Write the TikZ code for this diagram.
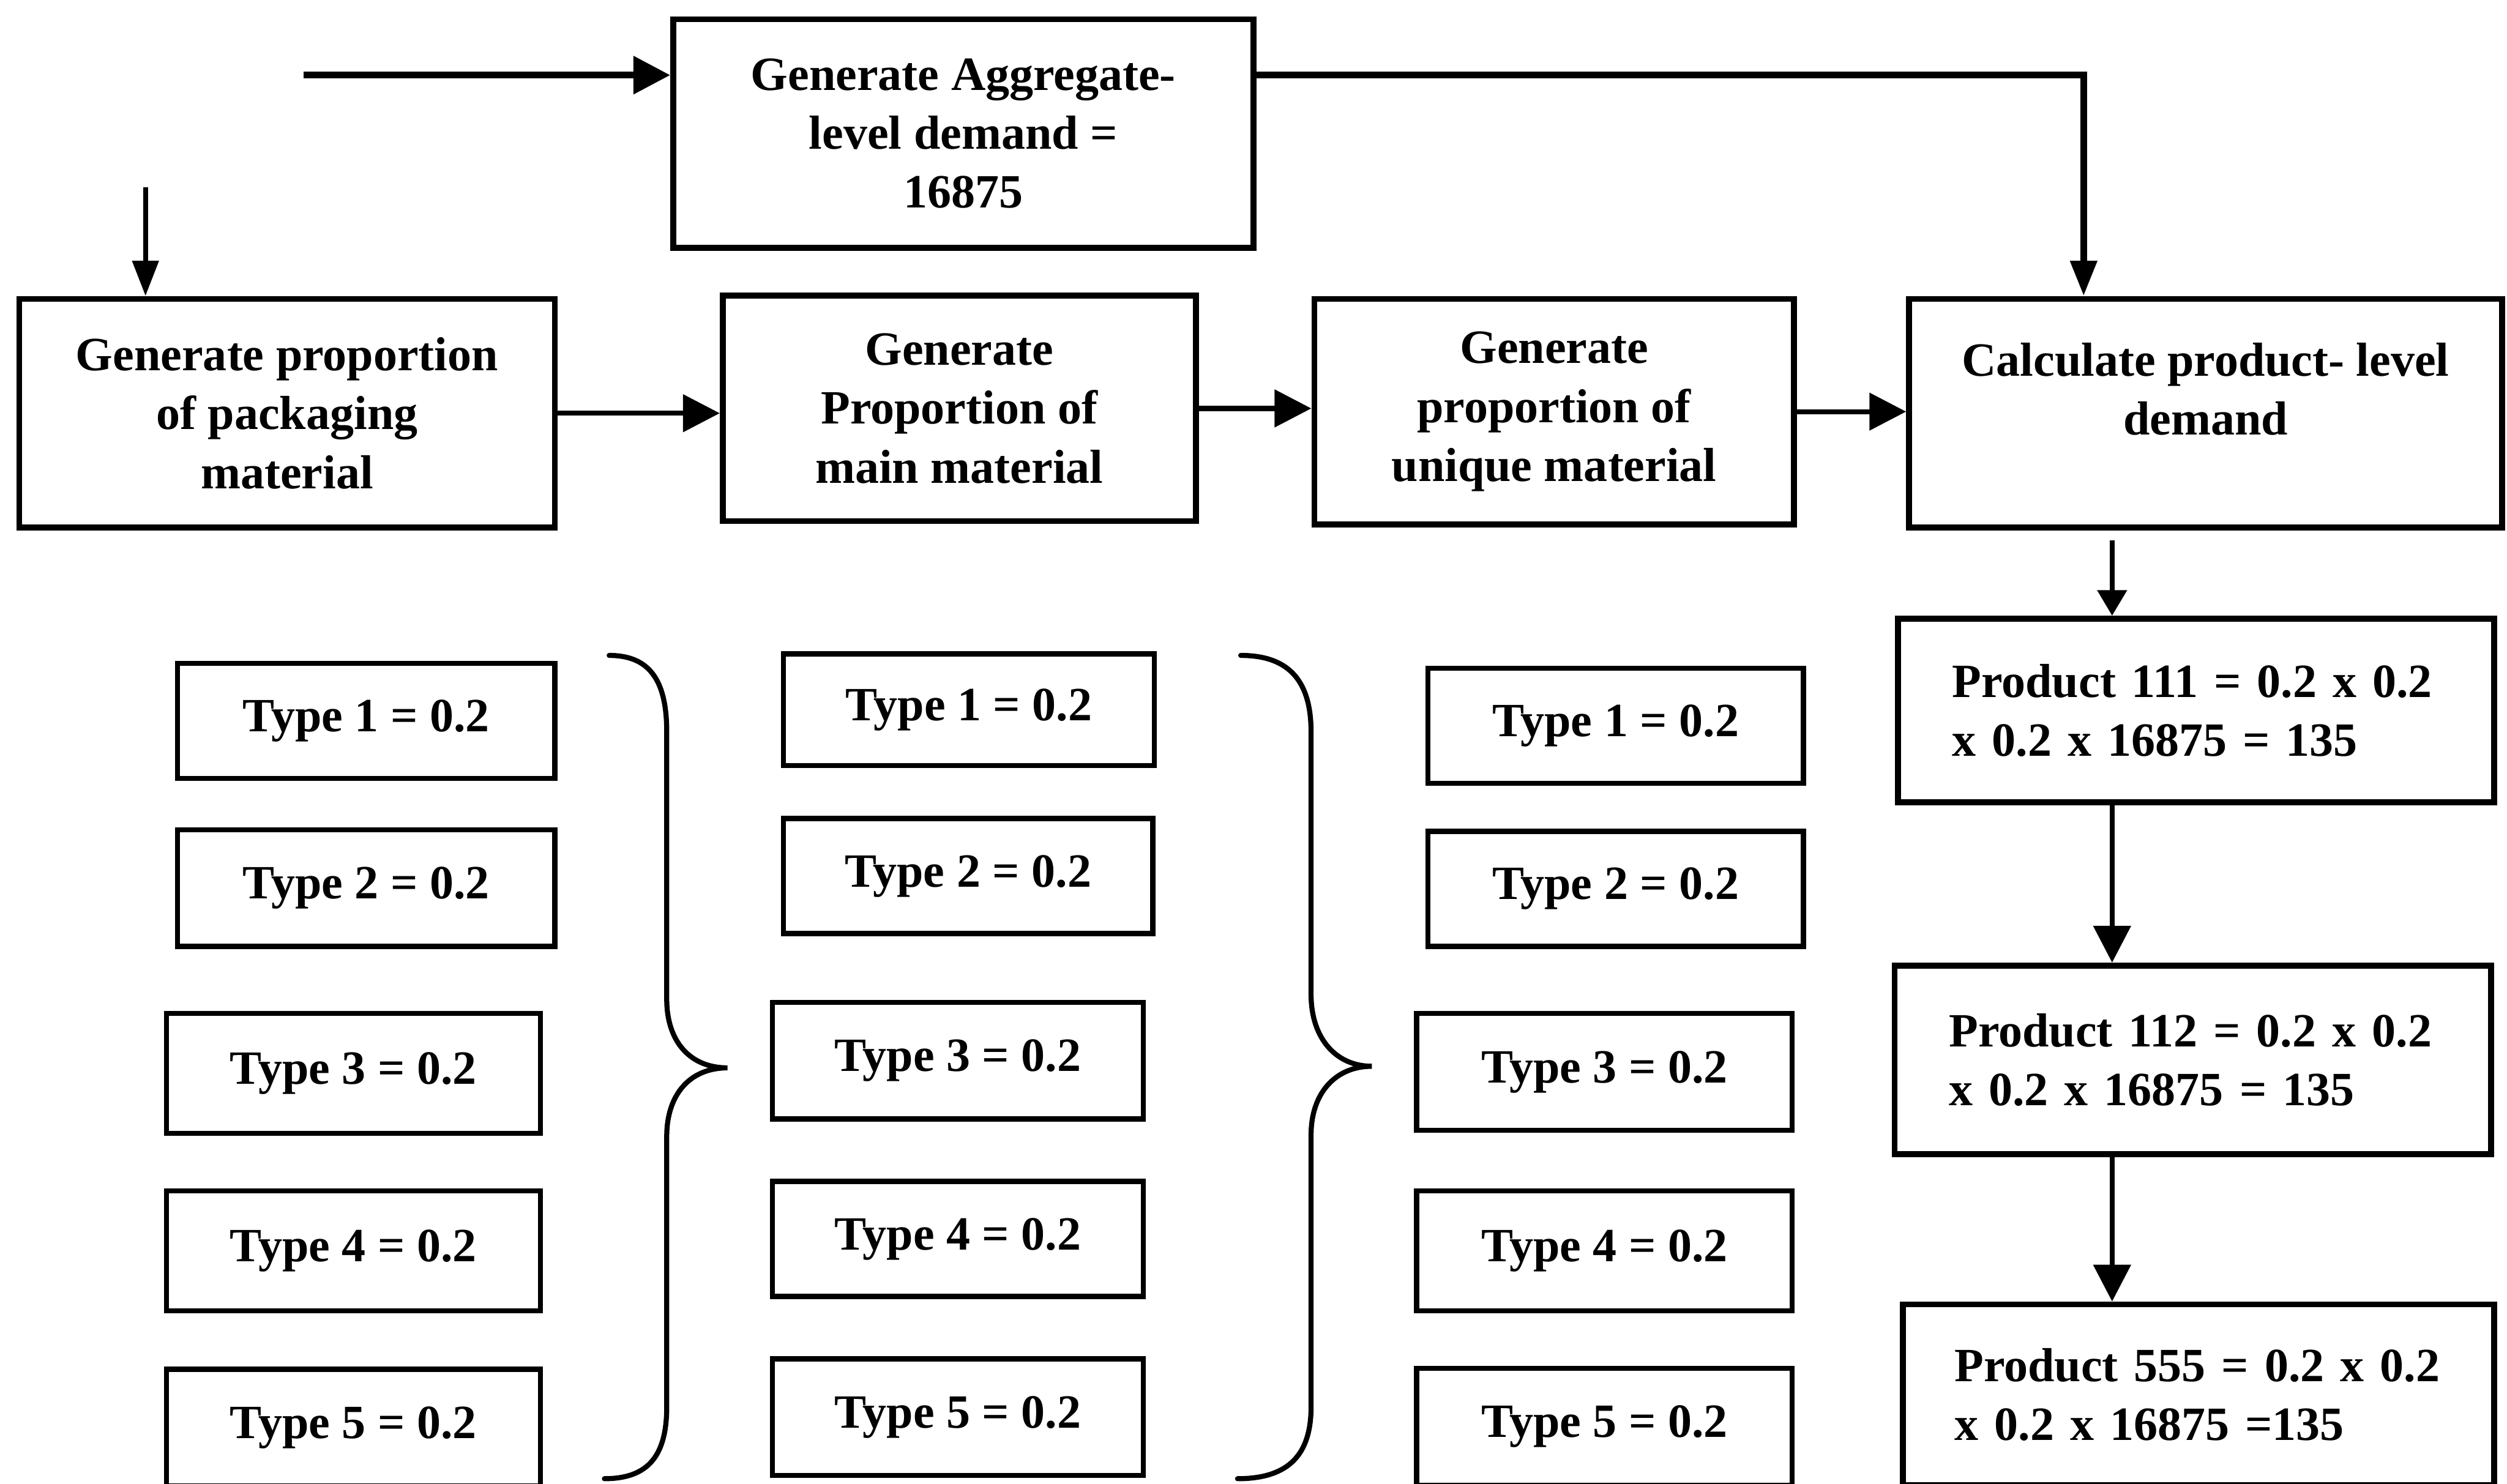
\documentclass[tikz,border=0pt]{standalone}
\usepackage{fontspec}
\setmainfont{Liberation Serif}
\usetikzlibrary{arrows.meta,calc}

\begin{document}
\begin{tikzpicture}[x=0.02cm,y=-0.02cm,
  font=\fontsize{17}{21}\selectfont\bfseries,
  bigbox/.style={draw,line width=2.1pt,align=center,inner sep=0pt},
  typebox/.style={draw,line width=1.8pt,inner sep=0pt},
  prodbox/.style={draw,line width=2.1pt,align=left,inner xsep=0.62cm,inner ysep=0pt,
    text width=6.1cm,minimum width=7.46cm},
  arr/.style={line width=1.8pt,-{Triangle[length=0.46cm,width=0.46cm]}},
  narr/.style={line width=1.8pt,-{Triangle[length=0.44cm,width=0.32cm]}},
  brace/.style={line width=1.8pt,line cap=round}]

\useasboundingbox (0,0) rectangle (1568,928);

% main flow boxes
\node[bigbox,minimum width=7.26cm,minimum height=2.86cm] (agg) at (602.5,83.5)
  {Generate Aggregate-\\level demand =\\16875};
\node[bigbox,minimum width=6.70cm,minimum height=2.86cm] (pack) at (179.5,258.5)
  {Generate proportion\\of packaging\\material};
\node[bigbox,minimum width=5.92cm,minimum height=2.82cm] (main) at (600,255.5)
  {Generate\\Proportion of\\main material};
\node[bigbox,minimum width=6.00cm,minimum height=2.82cm] (uniq) at (972,257.5)
  {Generate\\proportion of\\unique material};
\node[bigbox,minimum width=7.42cm,minimum height=2.86cm] (calc) at (1379.5,258.5) {};
\node[align=center] (calctext) at ($(calc.center)+(0,-15)$)
  {Calculate product- level\\demand};

% product-level results
\node[prodbox,minimum height=2.30cm] (p111) at (1373.5,444.5)
  {Product 111 = 0.2 x 0.2\\x 0.2 x 16875 = 135};
\node[prodbox,minimum height=2.36cm] (p112) at (1371.5,663)
  {Product 112 = 0.2 x 0.2\\x 0.2 x 16875 = 135};
\node[prodbox,minimum height=2.26cm,minimum width=7.40cm] (p555) at (1375,872.5)
  {Product 555 = 0.2 x 0.2\\x 0.2 x 16875 =135};

% material types, packaging
\node[typebox,minimum width=4.72cm,minimum height=1.44cm] (a1) at (229,451) {Type 1 = 0.2};
\node[typebox,minimum width=4.72cm,minimum height=1.46cm] (a2) at (229,555.5) {Type 2 = 0.2};
\node[typebox,minimum width=4.68cm,minimum height=1.50cm] (a3) at (221,671.5) {Type 3 = 0.2};
\node[typebox,minimum width=4.68cm,minimum height=1.50cm] (a4) at (221,782.5) {Type 4 = 0.2};
\node[typebox,minimum width=4.68cm,minimum height=1.46cm] (a5) at (221,893) {Type 5 = 0.2};

% material types, main
\node[typebox,minimum width=4.64cm,minimum height=1.40cm] (b1) at (606,444) {Type 1 = 0.2};
\node[typebox,minimum width=4.62cm,minimum height=1.44cm] (b2) at (605.5,548) {Type 2 = 0.2};
\node[typebox,minimum width=4.64cm,minimum height=1.46cm] (b3) at (599,663.5) {Type 3 = 0.2};
\node[typebox,minimum width=4.64cm,minimum height=1.44cm] (b4) at (599,775) {Type 4 = 0.2};
\node[typebox,minimum width=4.64cm,minimum height=1.46cm] (b5) at (599,886.5) {Type 5 = 0.2};

% material types, unique
\node[typebox,minimum width=4.70cm,minimum height=1.44cm] (c1) at (1010.5,454) {Type 1 = 0.2};
\node[typebox,minimum width=4.70cm,minimum height=1.44cm] (c2) at (1010.5,556) {Type 2 = 0.2};
\node[typebox,minimum width=4.70cm,minimum height=1.46cm] (c3) at (1003.5,670.5) {Type 3 = 0.2};
\node[typebox,minimum width=4.70cm,minimum height=1.50cm] (c4) at (1003.5,782.5) {Type 4 = 0.2};
\node[typebox,minimum width=4.70cm,minimum height=1.46cm] (c5) at (1003.5,892.5) {Type 5 = 0.2};

% curly braces between the type columns
\draw[brace] (381,410) .. controls (408,410) and (417,428) .. (417,458)
  -- (417,625) .. controls (417,652) and (432,668) .. (455,668)
  .. controls (432,668) and (417,684) .. (417,711)
  -- (417,880) .. controls (417,910) and (406,925) .. (378,925);
\draw[brace] (776,410) .. controls (808,410) and (820,428) .. (820,458)
  -- (820,622) .. controls (820,650) and (836,667) .. (858,667)
  .. controls (836,667) and (820,683) .. (820,710)
  -- (820,880) .. controls (820,910) and (806,925) .. (774,925);

% connectors
\coordinate (inagg) at (190,47);
\coordinate (inpack) at (91,117);
\coordinate (drop) at ($(calc.north west)+(111,0)$);
\coordinate (down) at (1321,338);

\draw[arr,line width=2.4pt] (inagg) -- (inagg -| agg.west);
\draw[narr,line width=2.4pt] (inagg -| agg.east) -| (drop);
\draw[narr] (inpack) -- (inpack |- pack.north);
\draw[arr] (pack.east) -- (pack.east -| main.west);
\draw[arr] (main.east) -- (main.east -| uniq.west);
\draw[arr] (uniq.east) -- (uniq.east -| calc.west);
\draw[line width=1.8pt,-{Triangle[length=0.32cm,width=0.36cm]}] (down) -- (down |- p111.north);
\draw[arr] (p111.south -| down) -- (p112.north -| down);
\draw[arr] (p112.south -| down) -- (p555.north -| down);

\end{tikzpicture}
\end{document}
